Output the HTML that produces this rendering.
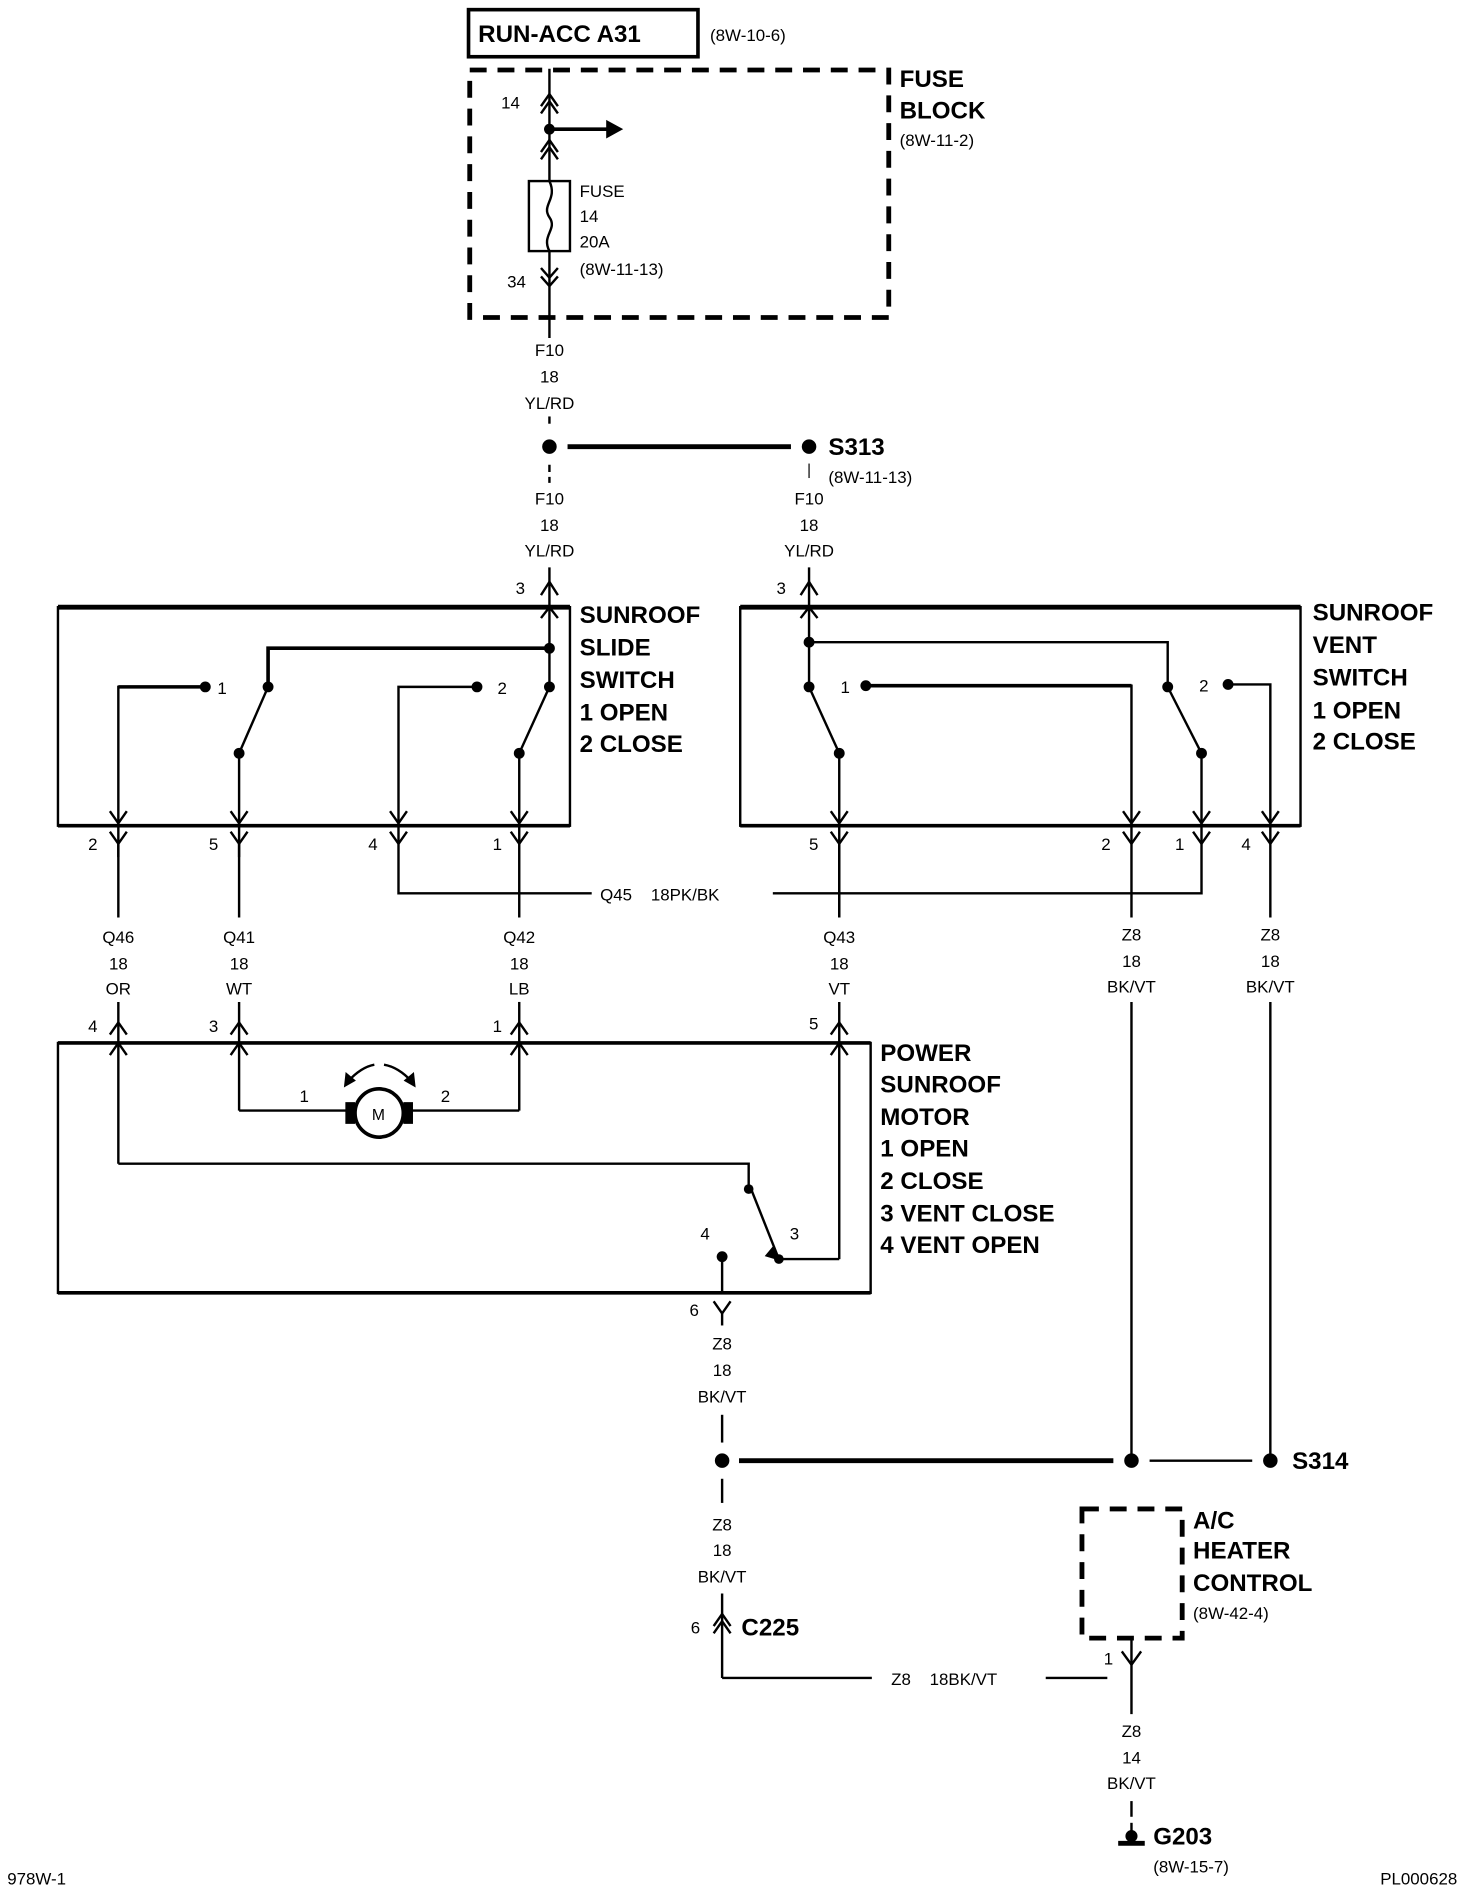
<!DOCTYPE html>
<html><head><meta charset="utf-8"><style>
html,body{margin:0;padding:0;background:#fff}
svg{display:block}
text{font-family:"Liberation Sans",sans-serif;fill:#000}
.s{font-size:14px}
.b{font-size:20px;font-weight:bold}
.m{text-anchor:middle}
</style></head><body>
<svg width="1472" height="1888" viewBox="0 0 1219 1564" preserveAspectRatio="none" xmlns="http://www.w3.org/2000/svg">
<g stroke="#000" fill="none" stroke-width="2">
<rect x="388" y="8" width="190" height="39" stroke-width="3"/>
<rect x="389" y="58" width="347" height="205" stroke-width="4" stroke-dasharray="14,9"/>
<line x1="455" y1="57" x2="455" y2="150"/>
<polyline points="448,88 455,78 462,88"/><polyline points="448,94 455,84 462,94"/>
<line x1="455" y1="107" x2="505" y2="107" stroke-width="3"/>
<polygon points="503,101 514,107 503,113" fill="#000"/>
<polyline points="448,126 455,116 462,126"/><polyline points="448,132 455,122 462,132"/>
<rect x="438" y="150" width="34" height="58"/>
<path d="M455,150 C462,165 448,170 455,180 C462,190 448,195 455,208"/>
<line x1="455" y1="208" x2="455" y2="280"/>
<polyline points="448,222 455,230 462,222"/><polyline points="448,229 455,237 462,229"/>
<line x1="455" y1="345" x2="455" y2="355" stroke-dasharray="6,4"/>
<line x1="455" y1="385" x2="455" y2="400" stroke-dasharray="6,4"/>
<line x1="470" y1="370" x2="655" y2="370" stroke-width="4"/>
<line x1="670" y1="384" x2="670" y2="396" stroke-width="1"/>
<line x1="455" y1="470" x2="455" y2="569"/>
<polyline points="448,493 455,482 462,493"/>
<line x1="670" y1="470" x2="670" y2="569"/>
<polyline points="663,493 670,482 677,493"/>
<rect x="48" y="503" width="424" height="181" stroke-width="2"/>
<line x1="48" y1="503" x2="472" y2="503" stroke-width="4"/>
<line x1="48" y1="684" x2="472" y2="684" stroke-width="3"/>
<polyline points="448,512 455,503 462,512"/>
<polyline points="455,537 222,537 222,569" stroke-width="3"/>
<line x1="222" y1="569" x2="198" y2="624"/>
<line x1="198" y1="624" x2="198" y2="710"/>
<polyline points="170,569 98,569 98,710" stroke-width="2"/>
<line x1="170" y1="569" x2="98" y2="569" stroke-width="3"/>
<polyline points="395,569 330,569 330,740 490,740"/>
<line x1="455" y1="569" x2="430" y2="624"/>
<line x1="430" y1="624" x2="430" y2="760"/>
<line x1="430" y1="830" x2="430" y2="864"/>
<polyline points="91,672 98,682 105,672"/><polyline points="191,672 198,682 205,672"/>
<polyline points="323,672 330,682 337,672"/><polyline points="423,672 430,682 437,672"/>
<polyline points="91,689 98,699 105,689"/><polyline points="191,689 198,699 205,689"/>
<polyline points="323,689 330,699 337,689"/><polyline points="423,689 430,699 437,689"/>
<line x1="98" y1="699" x2="98" y2="760"/><line x1="198" y1="699" x2="198" y2="760"/>
<polyline points="640,740 995,740 995,699"/>
<rect x="613" y="503" width="464" height="181"/>
<line x1="613" y1="503" x2="1077" y2="503" stroke-width="4"/>
<line x1="613" y1="684" x2="1077" y2="684" stroke-width="3"/>
<polyline points="663,512 670,503 677,512"/>
<polyline points="670,532 967,532 967,569"/>
<line x1="670" y1="569" x2="695" y2="624"/>
<line x1="695" y1="624" x2="695" y2="760"/>
<polyline points="717,568 937,568 937,699" />
<line x1="717" y1="568" x2="937" y2="568" stroke-width="3"/>
<line x1="967" y1="569" x2="995" y2="624"/>
<line x1="995" y1="624" x2="995" y2="699"/>
<polyline points="1017,567 1052,567 1052,699"/>
<polyline points="688,672 695,682 702,672"/><polyline points="930,672 937,682 944,672"/>
<polyline points="988,672 995,682 1002,672"/><polyline points="1045,672 1052,682 1059,672"/>
<polyline points="688,689 695,699 702,689"/><polyline points="930,689 937,699 944,689"/>
<polyline points="988,689 995,699 1002,689"/><polyline points="1045,689 1052,699 1059,689"/>
<line x1="695" y1="699" x2="695" y2="760"/>
<line x1="937" y1="699" x2="937" y2="760"/><line x1="1052" y1="699" x2="1052" y2="760"/>
<line x1="937" y1="830" x2="937" y2="1210"/><line x1="1052" y1="830" x2="1052" y2="1210"/>
<line x1="98" y1="830" x2="98" y2="964"/><line x1="198" y1="830" x2="198" y2="920"/>
<line x1="430" y1="864" x2="430" y2="920"/><line x1="695" y1="830" x2="695" y2="1043"/>
<polyline points="91,857 98,847 105,857"/><polyline points="191,857 198,847 205,857"/>
<polyline points="423,857 430,847 437,857"/><polyline points="688,857 695,847 702,857"/>
<polyline points="91,874 98,864 105,874"/><polyline points="191,874 198,864 205,874"/>
<polyline points="423,874 430,864 437,874"/><polyline points="688,874 695,864 702,874"/>
<rect x="48" y="864" width="673" height="207"/>
<line x1="48" y1="864" x2="721" y2="864" stroke-width="3"/>
<line x1="48" y1="1071" x2="721" y2="1071" stroke-width="3"/>
<polyline points="198,920 289,920"/><polyline points="339,920 430,920"/>
<circle cx="314" cy="922" r="20" stroke-width="3"/>
<rect x="287" y="914" width="6" height="16" fill="#000"/><rect x="335" y="914" width="6" height="16" fill="#000"/>
<path d="M288,896 Q299,884 310,882"/><path d="M318,882 Q330,884 341,896"/>
<polygon points="286,899 287,890 293,895" fill="#000"/><polygon points="343,899 342,890 336,895" fill="#000"/>
<polyline points="98,964 620,964 620,985"/>
<line x1="622" y1="985" x2="645" y2="1043"/>
<polyline points="645,1043 695,1043"/>
<polygon points="640,1034 645,1043 635,1040" fill="#000"/>
<line x1="598" y1="1041" x2="598" y2="1071"/>
<polyline points="591,1078 598,1088 605,1078"/>
<line x1="598" y1="1088" x2="598" y2="1098"/>
<line x1="598" y1="1172" x2="598" y2="1195"/>
<line x1="612" y1="1210" x2="922" y2="1210" stroke-width="4"/>
<line x1="952" y1="1210" x2="1037" y2="1210" stroke-width="2"/>
<line x1="598" y1="1225" x2="598" y2="1245"/>
<line x1="598" y1="1320" x2="598" y2="1390"/>
<polyline points="591,1347 598,1337 605,1347"/><polyline points="591,1353 598,1343 605,1353"/>
<polyline points="598,1390 722,1390"/>
<line x1="866" y1="1390" x2="917" y2="1390"/>
<rect x="896" y="1250" width="83" height="107" stroke-width="4" stroke-dasharray="14,9"/>
<polyline points="929,1368 937,1379 945,1368"/>
<line x1="937" y1="1357" x2="937" y2="1420"/>
<line x1="937" y1="1492" x2="937" y2="1505"/>
<line x1="937" y1="1510" x2="937" y2="1525"/>
<line x1="926" y1="1527" x2="948" y2="1527" stroke-width="4"/>
</g>
<g fill="#000">
<circle cx="455" cy="107" r="4.5"/><circle cx="455" cy="370" r="6"/><circle cx="670" cy="370" r="6"/>
<circle cx="455" cy="537" r="4.5"/><circle cx="222" cy="569" r="4.5"/><circle cx="198" cy="624" r="4.5"/>
<circle cx="170" cy="569" r="4.5"/><circle cx="395" cy="569" r="4.5"/><circle cx="455" cy="569" r="4.5"/><circle cx="430" cy="624" r="4.5"/>
<circle cx="670" cy="532" r="4.5"/><circle cx="670" cy="569" r="4.5"/><circle cx="695" cy="624" r="4.5"/>
<circle cx="717" cy="568" r="4.5"/><circle cx="967" cy="569" r="4.5"/><circle cx="995" cy="624" r="4.5"/><circle cx="1017" cy="567" r="4.5"/>
<circle cx="620" cy="985" r="4"/><circle cx="645" cy="1043" r="4"/><circle cx="598" cy="1041" r="4.5"/>
<circle cx="598" cy="1210" r="6"/><circle cx="937" cy="1210" r="6"/><circle cx="1052" cy="1210" r="6"/>
<circle cx="937" cy="1521" r="5"/>
</g>
<text x="396" y="35" class="b">RUN-ACC A31</text>
<text x="588" y="34" class="s">(8W-10-6)</text>
<text x="745" y="72" class="b">FUSE</text><text x="745" y="98" class="b">BLOCK</text><text x="745" y="121" class="s">(8W-11-2)</text>
<text x="415" y="90" class="s">14</text><text x="420" y="238" class="s">34</text>
<text x="480" y="163" class="s">FUSE</text><text x="480" y="184" class="s">14</text><text x="480" y="205" class="s">20A</text><text x="480" y="228" class="s">(8W-11-13)</text>
<g class="s" text-anchor="middle">
<text x="455" y="295">F10</text><text x="455" y="317">18</text><text x="455" y="339">YL/RD</text>
<text x="455" y="418">F10</text><text x="455" y="440">18</text><text x="455" y="461">YL/RD</text>
<text x="670" y="418">F10</text><text x="670" y="440">18</text><text x="670" y="461">YL/RD</text>
<text x="98" y="781">Q46</text><text x="98" y="803">18</text><text x="98" y="824">OR</text>
<text x="198" y="781">Q41</text><text x="198" y="803">18</text><text x="198" y="824">WT</text>
<text x="430" y="781">Q42</text><text x="430" y="803">18</text><text x="430" y="824">LB</text>
<text x="695" y="781">Q43</text><text x="695" y="803">18</text><text x="695" y="824">VT</text>
<text x="937" y="779">Z8</text><text x="937" y="801">18</text><text x="937" y="822">BK/VT</text>
<text x="1052" y="779">Z8</text><text x="1052" y="801">18</text><text x="1052" y="822">BK/VT</text>
<text x="598" y="1118">Z8</text><text x="598" y="1140">18</text><text x="598" y="1162">BK/VT</text>
<text x="598" y="1268">Z8</text><text x="598" y="1289">18</text><text x="598" y="1311">BK/VT</text>
<text x="937" y="1439">Z8</text><text x="937" y="1461">14</text><text x="937" y="1482">BK/VT</text>
</g>
<text x="686" y="377" class="b">S313</text><text x="686" y="400" class="s">(8W-11-13)</text>
<text x="427" y="492" class="s">3</text><text x="643" y="492" class="s">3</text>
<text x="480" y="516" class="b">SUNROOF</text><text x="480" y="543" class="b">SLIDE</text><text x="480" y="570" class="b">SWITCH</text><text x="480" y="597" class="b">1 OPEN</text><text x="480" y="623" class="b">2 CLOSE</text>
<text x="1087" y="514" class="b">SUNROOF</text><text x="1087" y="541" class="b">VENT</text><text x="1087" y="568" class="b">SWITCH</text><text x="1087" y="595" class="b">1 OPEN</text><text x="1087" y="621" class="b">2 CLOSE</text>
<text x="180" y="575" class="s">1</text><text x="412" y="575" class="s">2</text>
<text x="696" y="574" class="s">1</text><text x="993" y="573" class="s">2</text>
<text x="73" y="704" class="s">2</text><text x="173" y="704" class="s">5</text><text x="305" y="704" class="s">4</text><text x="408" y="704" class="s">1</text>
<text x="670" y="704" class="s">5</text><text x="912" y="704" class="s">2</text><text x="973" y="704" class="s">1</text><text x="1028" y="704" class="s">4</text>
<text x="497" y="746" class="s">Q45&#160;&#160;&#160;&#160;18PK/BK</text>
<text x="73" y="855" class="s">4</text><text x="173" y="855" class="s">3</text><text x="408" y="855" class="s">1</text><text x="670" y="853" class="s">5</text>
<text x="729" y="879" class="b">POWER</text><text x="729" y="905" class="b">SUNROOF</text><text x="729" y="932" class="b">MOTOR</text><text x="729" y="958" class="b">1 OPEN</text><text x="729" y="985" class="b">2 CLOSE</text><text x="729" y="1012" class="b">3 VENT CLOSE</text><text x="729" y="1038" class="b">4 VENT OPEN</text>
<text x="308" y="928" style="font-size:13px">M</text>
<text x="248" y="913" class="s">1</text><text x="365" y="913" class="s">2</text>
<text x="580" y="1027" class="s">4</text><text x="654" y="1027" class="s">3</text>
<text x="571" y="1090" class="s">6</text>
<text x="1070" y="1217" class="b">S314</text>
<text x="572" y="1353" class="s">6</text><text x="614" y="1355" class="b">C225</text>
<text x="738" y="1396" class="s">Z8&#160;&#160;&#160;&#160;18BK/VT</text>
<text x="988" y="1266" class="b">A/C</text><text x="988" y="1291" class="b">HEATER</text><text x="988" y="1318" class="b">CONTROL</text><text x="988" y="1341" class="s">(8W-42-4)</text>
<text x="914" y="1379" class="s">1</text>
<text x="955" y="1528" class="b">G203</text><text x="955" y="1551" class="s">(8W-15-7)</text>
<text x="6" y="1561" class="s">978W-1</text><text x="1143" y="1561" class="s">PL000628</text>
</svg>
</body></html>
